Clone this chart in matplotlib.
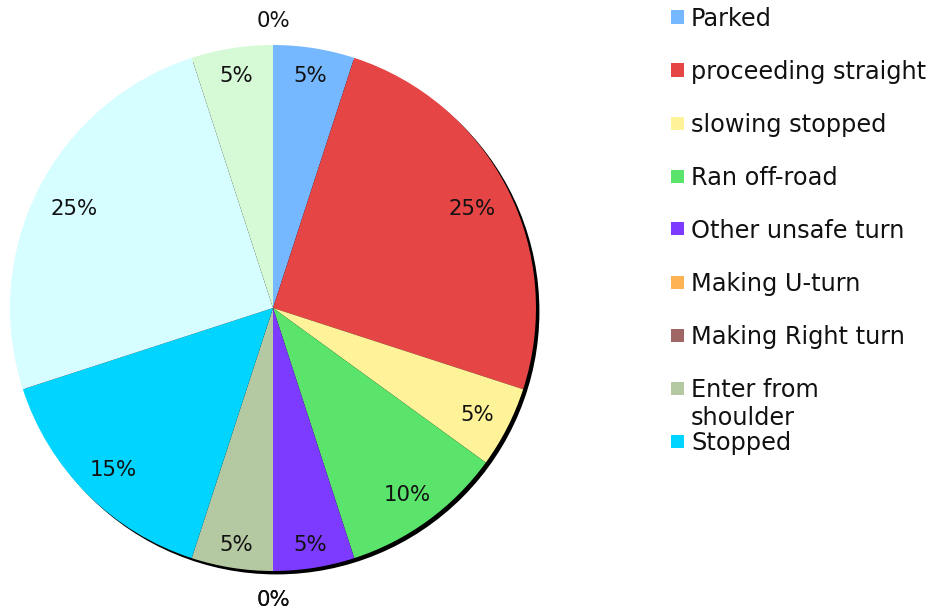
import numpy as np
import matplotlib
matplotlib.use("Agg")
import matplotlib.pyplot as plt
from matplotlib.patches import Circle, Rectangle

plt.rcParams['font.family'] = ['DejaVu Sans']

# Share of each pre-crash movement (percent), clockwise from 12 o'clock
values = [5, 25, 5, 10, 5, 0, 0, 5, 15, 25, 5, 0]
colors = ['#75b8ff', '#e54545', '#fff39a', '#5ae46b', '#7c3bff', '#ffb254',
          '#a06666', '#b4c8a2', '#00d4ff', '#d6fdff', '#d6f9d6', '#ffe0b0']
legend_labels = ['Parked', 'proceeding straight', 'slowing stopped',
                 'Ran off-road', 'Other unsafe turn', 'Making U-turn',
                 'Making Right turn', 'Enter from\nshoulder', 'Stopped']

W, H = 937, 614
fig = plt.figure(figsize=(W / 100, H / 100), dpi=100)
fig.patch.set_facecolor('white')

cx, cy, R = 273, 308, 263
ax = fig.add_axes([(cx - R) / W, (H - cy - R) / H, 2 * R / W, 2 * R / H])

# drop shadow behind the pie
shadow = Circle((0.013, -0.013), 1.0, facecolor='black', edgecolor='none',
                zorder=0, clip_on=False)
ax.add_patch(shadow)

wedges, texts, autotexts = ax.pie(
    values, colors=colors, startangle=90, counterclock=False, radius=1,
    autopct=lambda p: f'{p:.0f}%', pctdistance=0.87,
    wedgeprops=dict(linewidth=0), textprops=dict(fontsize=15.3, color='#111111'))
for w in wedges:
    w.set_zorder(1)

ax.set_xlim(-1, 1)
ax.set_ylim(-1, 1)
ax.set_aspect('equal')
ax.axis('off')

# place each percentage so its box sits just inside the rim;
# empty slices get their label just outside the rim
fig.canvas.draw()
renderer = fig.canvas.get_renderer()
px = 1.0 / R          # one pixel in data units
r_out = 248 * px
for v, w, t in zip(values, wedges, autotexts):
    ang = np.deg2rad((w.theta1 + w.theta2) / 2)
    c, s = np.cos(ang), np.sin(ang)
    bb = t.get_window_extent(renderer)
    hw, hh = bb.width / 2 * px, 8 * px
    if v == 0:
        r = 1.1
    else:
        r = r_out - (hw * abs(c) + hh * abs(s))
    t.set_position((r * c, r * s - 2.5 * px))
    t.set_zorder(3)

# legend on the right
row_y = [17, 70, 123, 176, 229, 282, 335, 388, 441]
sq = 13
line_h = 28
for lab, col, y in zip(legend_labels, colors, row_y):
    fig.patches.append(Rectangle((671 / W, (H - y - sq / 2) / H), sq / W, sq / H,
                                 transform=fig.transFigure, facecolor=col,
                                 edgecolor='none'))
    for i, line in enumerate(lab.split('\n')):
        fig.text(691 / W, (H - y - 8.8 - i * line_h) / H, line, fontsize=17.3,
                 color='#111111', va='baseline', ha='left')

fig.savefig('out.png', dpi=100, facecolor='white')
